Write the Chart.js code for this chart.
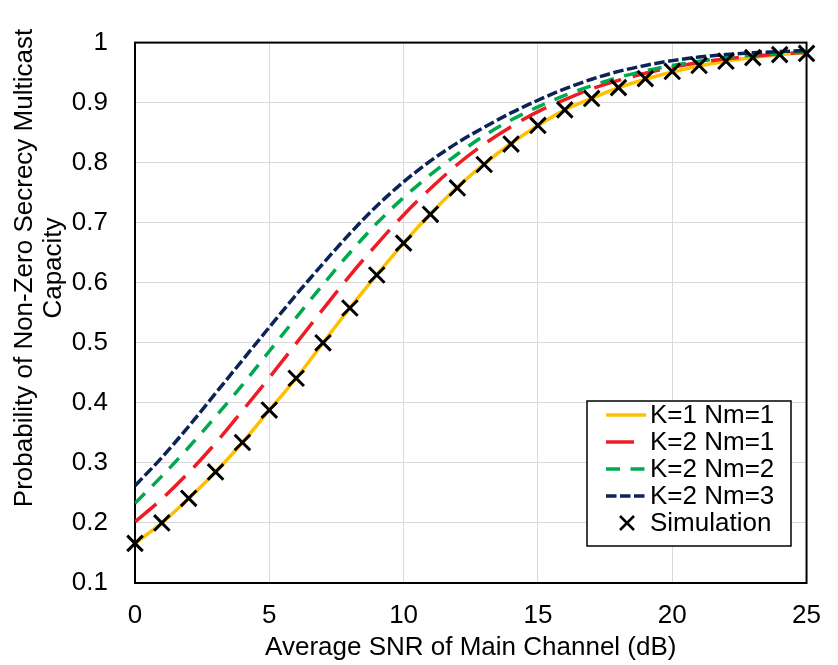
<!DOCTYPE html>
<html>
<head>
<meta charset="utf-8">
<script src="https://cdn.jsdelivr.net/npm/chart.js@4.4.0/dist/chart.umd.min.js"></script>
<style>
  html, body { margin: 0; padding: 0; background: #fff; }
</style>
</head>
<body>
<canvas id="chart" width="838" height="665"></canvas>
<script>
// values
const snrDb = [0,1,2,3,4,5,6,7,8,9,10,11,12,13,14,15,16,17,18,19,20,21,22,23,24,25];
const k1Nm1 = [0.166,0.200,0.241,0.285,0.334,0.388,0.441,0.500,0.558,0.613,0.666,0.715,0.759,0.798,0.832,0.862,0.888,0.907,0.925,0.939,0.951,0.961,0.969,0.975,0.980,0.983];
const k2Nm1 = [0.202,0.240,0.284,0.333,0.387,0.442,0.499,0.556,0.612,0.664,0.713,0.757,0.797,0.831,0.860,0.885,0.905,0.923,0.937,0.949,0.959,0.967,0.973,0.977,0.981,0.984];
const k2Nm2 = [0.233,0.278,0.326,0.377,0.430,0.486,0.542,0.597,0.650,0.699,0.742,0.780,0.814,0.845,0.871,0.893,0.912,0.928,0.942,0.953,0.962,0.969,0.975,0.979,0.982,0.985];
const k2Nm3 = [0.262,0.309,0.361,0.416,0.471,0.526,0.580,0.632,0.682,0.728,0.768,0.803,0.833,0.859,0.883,0.904,0.923,0.939,0.952,0.962,0.970,0.976,0.980,0.983,0.985,0.987];
const simulation = [0.166,0.200,0.241,0.285,0.334,0.388,0.441,0.500,0.558,0.613,0.666,0.714,0.758,0.797,0.831,0.862,0.888,0.907,0.925,0.940,0.952,0.962,0.969,0.975,0.980,0.982];

const xTicks = [0,5,10,15,20,25];
const yTitle = ["Probability of Non-Zero Secrecy Multicast", "Capacity"];
const FONT = "Arial, 'Liberation Sans', sans-serif";
const FS = 26;

const pts = (arr) => snrDb.map((x, i) => ({ x, y: arr[i] }));

const curve = (label, arr, color, dash, order) => ({
  label, data: pts(arr), borderColor: color, backgroundColor: color,
  borderWidth: 3.5, borderDash: dash, borderCapStyle: "butt",
  pointRadius: 0, cubicInterpolationMode: "monotone", fill: false, order
});

// black frame round the plot area
const framePlugin = {
  id: "frame",
  beforeDatasetsDraw(chart) {
    const { ctx, chartArea: a } = chart;
    ctx.save();
    ctx.strokeStyle = "#000";
    ctx.lineWidth = 2;
    ctx.strokeRect(a.left, a.top, a.right - a.left, a.bottom - a.top);
    ctx.restore();
  }
};

// y title sits a little above the plot's middle in the source, so draw it here
const yTitlePlugin = {
  id: "yTitle",
  afterDraw(chart) {
    const { ctx } = chart;
    ctx.save();
    ctx.font = FS + "px " + FONT;
    ctx.fillStyle = "#000";
    ctx.textAlign = "center";
    ctx.textBaseline = "middle";
    ctx.translate(25, 268);
    ctx.rotate(-Math.PI / 2);
    yTitle.forEach((line, i) => ctx.fillText(line, 0, i * 29));
    ctx.restore();
  }
};

// boxed legend in the lower right, like the source figure
const boxLegend = {
  id: "boxLegend",
  afterDraw(chart) {
    const { ctx } = chart;
    const box = { x: 587, y: 401, w: 204, h: 145 };
    ctx.save();
    ctx.fillStyle = "#fff";
    ctx.fillRect(box.x, box.y, box.w, box.h);
    ctx.strokeStyle = "#000";
    ctx.lineWidth = 1.5;
    ctx.strokeRect(box.x, box.y, box.w, box.h);
    ctx.font = FS + "px " + FONT;
    ctx.textBaseline = "middle";
    ctx.textAlign = "left";
    chart.data.datasets.forEach((ds, i) => {
      const y = 415 + i * 27;
      if (ds.showLine === false) {
        ctx.strokeStyle = "#000";
        ctx.lineWidth = 2.5;
        ctx.setLineDash([]);
        ctx.beginPath();
        ctx.moveTo(620, y - 7); ctx.lineTo(634, y + 7);
        ctx.moveTo(634, y - 7); ctx.lineTo(620, y + 7);
        ctx.stroke();
      } else {
        ctx.strokeStyle = ds.borderColor;
        ctx.lineWidth = ds.borderWidth;
        ctx.lineCap = "butt";
        ctx.setLineDash(ds.borderDash || []);
        ctx.beginPath();
        ctx.moveTo(606, y); ctx.lineTo(646, y);
        ctx.stroke();
      }
      ctx.setLineDash([]);
      ctx.fillStyle = "#000";
      ctx.fillText(ds.label, 650, y + 1);
    });
    ctx.restore();
  }
};

new Chart(document.getElementById("chart"), {
  type: "line",
  data: {
    datasets: [
      curve("K=1 Nm=1", k1Nm1, "#FFC000", [], 4),
      curve("K=2 Nm=1", k2Nm1, "#EE1C25", [28, 12], 3),
      curve("K=2 Nm=2", k2Nm2, "#00A84F", [14, 10.5], 2),
      curve("K=2 Nm=3", k2Nm3, "#0B2358", [10.5, 3.5], 1),
      {
        label: "Simulation", data: pts(simulation), showLine: false,
        pointStyle: "crossRot", pointRadius: 11, pointBorderWidth: 3,
        borderColor: "#000", backgroundColor: "#000", clip: false, order: 0
      }
    ]
  },
  options: {
    responsive: false,
    animation: false,
    layout: { padding: { top: 21, right: 23, left: 0, bottom: 0 } },
    plugins: { legend: { display: false }, tooltip: { enabled: false } },
    scales: {
      x: {
        type: "linear", min: 0, max: 25,
        afterFit: (s) => { s.height = 82; },
        afterBuildTicks: (s) => { s.ticks = xTicks.map(v => ({ value: v })); },
        ticks: { color: "#000", font: { family: FONT, size: FS }, padding: 17, maxRotation: 0 },
        grid: { color: "#d9d9d9", lineWidth: 1, drawTicks: false },
        border: { display: false },
        title: { display: true, text: "Average SNR of Main Channel (dB)", color: "#000",
                 font: { family: FONT, size: FS }, padding: { bottom: 2, top: 0 } }
      },
      y: {
        min: 0.1, max: 1,
        afterFit: (s) => { s.width = 135; },
        ticks: { stepSize: 0.1, color: "#000", font: { family: FONT, size: FS }, padding: 27,
                 callback: (v) => String(+v.toFixed(1)) },
        grid: { color: "#d9d9d9", lineWidth: 1, drawTicks: false },
        border: { display: false },
        title: { display: false }
      }
    }
  },
  plugins: [framePlugin, yTitlePlugin, boxLegend]
});
</script>
</body>
</html>
